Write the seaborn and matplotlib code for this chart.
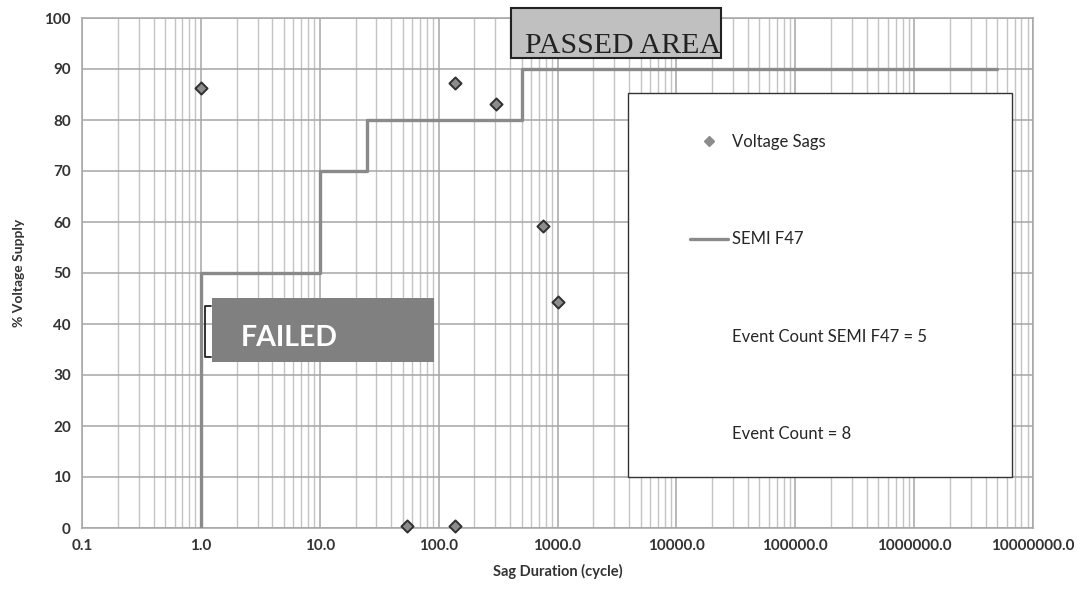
import matplotlib.pyplot as plt
import matplotlib.patches as mpatches
from matplotlib.lines import Line2D
from matplotlib.ticker import FixedLocator, LogLocator, MultipleLocator, NullFormatter
import seaborn as sns
import pandas as pd

# Voltage sag events (duration in cycles, remaining voltage in %)
sag_duration = [1.0, 138, 305, 760, 1000, 54, 138]
sag_voltage = [86.3, 87.3, 83.1, 59.2, 44.3, 0.3, 0.3]

# SEMI F47 curve break points
f47_duration = [1, 1, 10, 25, 500, 5000000]
f47_voltage = [0, 50, 70, 80, 90, 90]

event_count_f47 = 5
event_count = 8

x_ticks = [0.1, 1, 10, 100, 1000, 10000, 100000, 1000000, 10000000]
x_ticklabels = [f"{v:.1f}" for v in x_ticks]

sags = pd.DataFrame({"duration": sag_duration, "voltage": sag_voltage})
f47 = pd.DataFrame({"duration": f47_duration, "voltage": f47_voltage})

sns.set_style("white")
plt.rcParams["font.family"] = ["Lato", "DejaVu Sans"]

fig = plt.figure(figsize=(10.88, 5.97), dpi=100)
ax = fig.add_axes([82 / 1088, 1 - 528 / 597, 951 / 1088, 510 / 597])

# SEMI F47 step curve
sns.lineplot(data=f47, x="duration", y="voltage", ax=ax,
             estimator=None, sort=False, drawstyle="steps-post",
             color="#8a8a8a", linewidth=2.4, zorder=3)

# voltage sags
sns.scatterplot(data=sags, x="duration", y="voltage", ax=ax,
                marker="D", s=38, color="#8c8c8c", edgecolor="#303030",
                linewidth=1.4, zorder=4, clip_on=False)

ax.set_xscale("log")
ax.set_xlim(0.1, 1e7)
ax.set_ylim(0, 100)
ax.yaxis.set_major_locator(MultipleLocator(10))
ax.set_xticks(x_ticks)
ax.set_xticklabels(x_ticklabels)
ax.xaxis.set_minor_locator(LogLocator(base=10, subs=range(2, 10), numticks=100))
ax.xaxis.set_minor_formatter(NullFormatter())

ax.grid(True, which="major", color="#a6a6a6", linewidth=1.1, zorder=0)
ax.grid(True, which="minor", axis="x", color="#c4c4c4", linewidth=1.0, zorder=0)
for s in ax.spines.values():
    s.set_color("#a6a6a6")
    s.set_linewidth(1.1)

ax.tick_params(length=0, labelsize=11, labelcolor="#333333", pad=8)
for lab in ax.get_xticklabels() + ax.get_yticklabels():
    lab.set_fontweight("bold")

ax.set_xlabel("Sag Duration (cycle)", fontsize=10.5, fontweight="bold",
              color="#333333", labelpad=8)
ax.set_ylabel("% Voltage Supply", fontsize=10, fontweight="bold",
              color="#333333", labelpad=14)

# legend panel
ax.add_patch(mpatches.Rectangle((0.574, 0.1), 0.404, 0.753, transform=ax.transAxes,
                                facecolor="white", edgecolor="#333333",
                                linewidth=1.0, zorder=5))
handles = [
    Line2D([], [], linestyle="none", marker="D", markersize=5.5,
           markerfacecolor="#8c8c8c", markeredgecolor="#8c8c8c"),
    Line2D([], [], color="#8a8a8a", linewidth=2.4),
    Line2D([], [], linestyle="none"),
    Line2D([], [], linestyle="none"),
]
labels = ["Voltage Sags", "SEMI F47",
          f"Event Count SEMI F47 = {event_count_f47}",
          f"Event Count = {event_count}"]
leg = ax.legend(handles, labels, loc="upper left", bbox_to_anchor=(0.639, 0.772),
                frameon=False, fontsize=12, labelspacing=4.87,
                handlelength=2.3, handletextpad=0.25,
                borderpad=0, borderaxespad=0)
leg.set_zorder(6)
for t in leg.get_texts():
    t.set_color("#262626")

# PASSED AREA box
ax.add_patch(mpatches.Rectangle((0.451, 0.922), 0.221, 0.098, transform=ax.transAxes,
                                facecolor="#c0c0c0", edgecolor="#222222",
                                linewidth=1.5, zorder=6, clip_on=False))
ax.text(0.466, 0.931, "PASSED AREA", transform=ax.transAxes,
        fontsize=21.5, family="Liberation Serif", color="#222222",
        ha="left", va="baseline", zorder=7)

# FAILED box
ax.add_patch(mpatches.Rectangle((0.1367, 0.325), 0.2334, 0.126, transform=ax.transAxes,
                                facecolor="#808080", edgecolor="none", zorder=6))
ax.plot([0.1356, 0.129, 0.129, 0.1356], [0.435, 0.435, 0.335, 0.335],
        transform=ax.transAxes, color="#222222", linewidth=1.3, zorder=7)
ax.text(0.167, 0.356, "FAILED", transform=ax.transAxes,
        fontsize=20.5, fontweight="bold", color="white",
        ha="left", va="baseline", zorder=7)

fig.savefig("out.png", dpi=100)
